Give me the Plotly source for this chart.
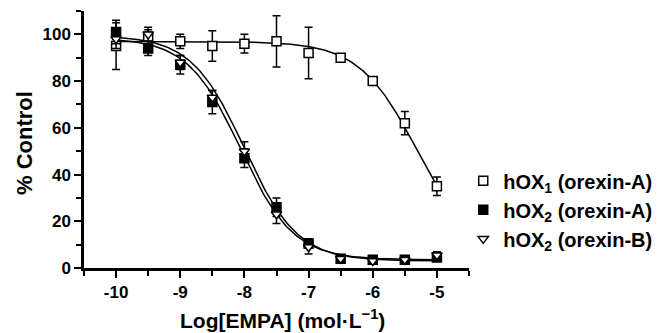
import numpy as np
import plotly.graph_objects as go

log_conc = [-10, -9.5, -9, -8.5, -8, -7.5, -7, -6.5, -6, -5.5, -5]

ox1_a = [95, 99, 97, 95, 96, 97, 92, 90, 80, 62, 35]
ox1_a_err = [10, 3, 3, 6.5, 4, 11, 11, 1, 1.5, 5, 4]

ox2_a = [101, 94, 87, 71, 47, 26, 10.5, 4, 3.5, 3.5, 4.5]
ox2_a_err = [5, 3, 4, 5, 4, 4, 2, 1, 1, 1, 1.5]

ox2_b = [98, 100, 88, 73, 50, 23, 9, 4, 3, 3.5, 5.5]
ox2_b_err = [4, 3, 3, 3, 4, 4, 3, 1, 1, 1, 1.5]

# fitted sigmoid parameters (top, bottom, logIC50, hill)
fit_ox1_a = (97, 3, -5.30, 0.95)
fit_ox2_a = (98.5, 3.5, -8.06, 1.05)
fit_ox2_b = (99.5, 3.0, -8.00, 1.05)

labels = ["hOX<sub>1</sub> (orexin-A)", "hOX<sub>2</sub> (orexin-A)", "hOX<sub>2</sub> (orexin-B)"]


def curve(p, x):
    top, bot, c, h = p
    return bot + (top - bot) / (1 + 10 ** ((x - c) * h))


xs = np.linspace(-10, -5, 200)
fig = go.Figure()
for p in (fit_ox1_a, fit_ox2_a, fit_ox2_b):
    fig.add_trace(go.Scatter(x=xs, y=curve(p, xs), mode="lines",
                             line=dict(color="black", width=1.5),
                             showlegend=False, hoverinfo="skip"))

series = [
    (ox1_a, ox1_a_err, "square", "white"),
    (ox2_a, ox2_a_err, "square", "black"),
    (ox2_b, ox2_b_err, "triangle-down", "white"),
]
for i, (ys, es, sym, fill) in enumerate(series):
    fig.add_trace(go.Scatter(
        x=log_conc, y=ys, mode="markers", name=labels[i],
        legendgroup=str(i),
        error_y=dict(type="data", array=es, color="black", thickness=1.5, width=4),
        marker=dict(symbol=sym, size=9, color=fill, line=dict(color="black", width=1.5)),
    ))

FONT = "Liberation Sans, Arial, sans-serif"
font_tick = dict(family=FONT, size=17, color="black", weight="bold")

fig.update_layout(
    width=672, height=333,
    margin=dict(l=84, r=203, t=11, b=65),
    plot_bgcolor="white", paper_bgcolor="white",
    showlegend=True,
    legend=dict(x=0.985, y=0.415, xanchor="left", yanchor="top",
                font=dict(family=FONT, size=20, color="black", weight="bold"),
                tracegroupgap=0, itemsizing="trace", bgcolor="rgba(0,0,0,0)"),
    xaxis=dict(range=[-10.5, -4.5], tickmode="array", tickvals=[-10, -9, -8, -7, -6, -5],
               ticktext=["-10", "-9", "-8", "-7", "-6", "-5"],
               showgrid=False, zeroline=False, showline=True, linecolor="black", linewidth=2.5,
               ticks="outside", ticklen=7, tickwidth=2, tickcolor="black",
               tickfont=font_tick,
               minor=dict(tickmode="array", tickvals=[-10.5, -9.5, -8.5, -7.5, -6.5, -5.5, -4.5],
                          ticks="outside", ticklen=5, tickwidth=2, tickcolor="black")),
    yaxis=dict(range=[0, 110], tickmode="array", tickvals=[0, 20, 40, 60, 80, 100],
               showgrid=False, zeroline=False, showline=True, linecolor="black", linewidth=2.5,
               ticks="outside", ticklen=7, tickwidth=2, tickcolor="black",
               tickfont=font_tick,
               minor=dict(tickmode="array", tickvals=[10, 30, 50, 70, 90, 110],
                          ticks="outside", ticklen=5, tickwidth=2, tickcolor="black")),
    annotations=[
        dict(text="Log[EMPA] (mol·L<sup>−1</sup>)", xref="paper", yref="paper",
             x=(282 - 84) / 385, y=-(319 - 268) / 257, xanchor="center", yanchor="middle",
             showarrow=False,
             font=dict(family=FONT, size=21, color="black", weight="bold")),
        dict(text="% Control", xref="paper", yref="paper", textangle=-90,
             x=-(84 - 24) / 385, y=(268 - 143) / 257, xanchor="center", yanchor="middle",
             showarrow=False,
             font=dict(family=FONT, size=22, color="black", weight="bold")),
    ],
)

fig.write_html("out.html")
